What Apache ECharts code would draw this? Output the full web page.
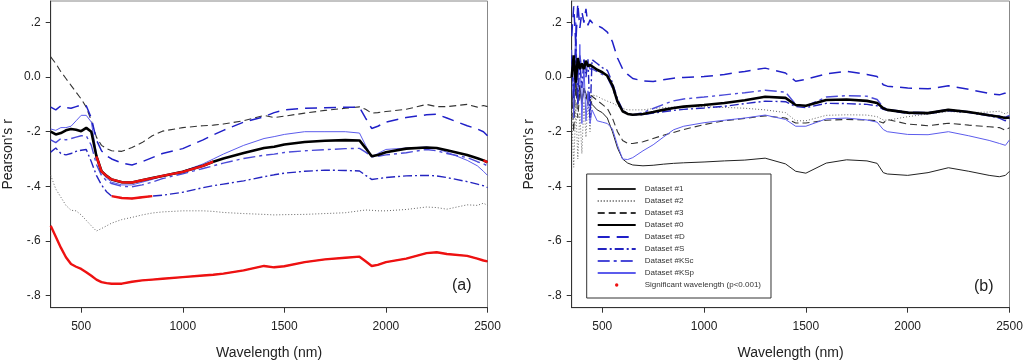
<!DOCTYPE html>
<html><head><meta charset="utf-8">
<script src="https://cdn.jsdelivr.net/npm/echarts@6/dist/echarts.min.js"></script>
<style>html,body{margin:0;padding:0;background:#fff}#c{width:1024px;height:360px}</style>
</head><body><div id="c"></div>
<script>
// ---------- Panel (a) ----------
const wlA = [350,375,400,425,450,475,500,525,550,575,600,625,650,700,750,800,850,900,1000,1100,1150,1200,1300,1400,1450,1500,1600,1700,1800,1870,1900,1930,1960,2000,2100,2200,2250,2300,2400,2450,2480,2500];
const a1  = [-0.545,-0.585,-0.625,-0.66,-0.685,-0.695,-0.703,-0.715,-0.728,-0.742,-0.751,-0.755,-0.757,-0.757,-0.75,-0.745,-0.742,-0.739,-0.733,-0.727,-0.724,-0.72,-0.708,-0.692,-0.697,-0.693,-0.678,-0.668,-0.662,-0.658,-0.675,-0.692,-0.688,-0.678,-0.665,-0.645,-0.642,-0.648,-0.655,-0.665,-0.672,-0.675];
const a2  = [-0.36,-0.41,-0.44,-0.47,-0.488,-0.49,-0.505,-0.525,-0.545,-0.564,-0.555,-0.545,-0.535,-0.522,-0.514,-0.505,-0.498,-0.494,-0.49,-0.49,-0.492,-0.496,-0.5,-0.503,-0.505,-0.504,-0.503,-0.5,-0.497,-0.49,-0.487,-0.488,-0.49,-0.49,-0.485,-0.476,-0.478,-0.484,-0.468,-0.47,-0.462,-0.47];
const a3  = [0.074,0.05,0.02,-0.005,-0.03,-0.055,-0.08,-0.11,-0.16,-0.22,-0.25,-0.262,-0.27,-0.272,-0.258,-0.24,-0.215,-0.198,-0.185,-0.178,-0.176,-0.172,-0.16,-0.14,-0.148,-0.143,-0.132,-0.122,-0.114,-0.109,-0.118,-0.132,-0.13,-0.126,-0.118,-0.1,-0.108,-0.108,-0.1,-0.11,-0.104,-0.108];
const a0  = [-0.2,-0.21,-0.205,-0.195,-0.19,-0.193,-0.198,-0.186,-0.2,-0.29,-0.345,-0.362,-0.375,-0.385,-0.386,-0.378,-0.37,-0.362,-0.347,-0.325,-0.31,-0.298,-0.278,-0.26,-0.255,-0.247,-0.238,-0.233,-0.231,-0.232,-0.26,-0.29,-0.285,-0.275,-0.262,-0.258,-0.26,-0.268,-0.285,-0.297,-0.305,-0.312];
const aD  = [-0.11,-0.12,-0.105,-0.112,-0.114,-0.108,-0.102,-0.105,-0.15,-0.23,-0.27,-0.288,-0.3,-0.315,-0.322,-0.31,-0.295,-0.28,-0.262,-0.23,-0.212,-0.195,-0.165,-0.145,-0.13,-0.12,-0.114,-0.112,-0.11,-0.111,-0.15,-0.188,-0.18,-0.165,-0.148,-0.138,-0.136,-0.15,-0.178,-0.19,-0.2,-0.215];
const aS  = [-0.275,-0.26,-0.28,-0.285,-0.28,-0.272,-0.268,-0.265,-0.31,-0.36,-0.395,-0.42,-0.436,-0.443,-0.445,-0.44,-0.436,-0.433,-0.422,-0.405,-0.398,-0.392,-0.38,-0.365,-0.358,-0.352,-0.345,-0.341,-0.342,-0.344,-0.36,-0.375,-0.372,-0.368,-0.362,-0.36,-0.362,-0.368,-0.383,-0.392,-0.398,-0.405];
const aKSc= [-0.23,-0.24,-0.225,-0.23,-0.225,-0.22,-0.215,-0.215,-0.25,-0.32,-0.36,-0.38,-0.39,-0.4,-0.402,-0.395,-0.385,-0.372,-0.354,-0.335,-0.325,-0.315,-0.298,-0.286,-0.282,-0.276,-0.27,-0.266,-0.262,-0.261,-0.275,-0.292,-0.29,-0.285,-0.277,-0.265,-0.27,-0.28,-0.295,-0.31,-0.318,-0.325];
const aKSp= [-0.19,-0.195,-0.185,-0.185,-0.18,-0.16,-0.14,-0.14,-0.165,-0.28,-0.35,-0.37,-0.385,-0.395,-0.395,-0.385,-0.375,-0.362,-0.345,-0.318,-0.3,-0.282,-0.25,-0.225,-0.218,-0.21,-0.2,-0.2,-0.2,-0.205,-0.25,-0.292,-0.28,-0.265,-0.26,-0.256,-0.262,-0.275,-0.305,-0.325,-0.345,-0.36];
// significant wavelength ranges (nm) in panel (a)
const sigA1 = [[350,2500]];
const sigA0 = [[575,1150],[2480,2500]];
const sigAS = [[650,850]];

// ---------- Panel (b) ----------
const wlB = [350,360,370,380,390,400,410,420,430,440,450,475,500,525,550,575,600,625,650,700,750,800,850,900,1000,1100,1200,1300,1400,1450,1500,1600,1700,1800,1850,1880,1900,2000,2100,2200,2300,2400,2450,2480,2500];
const b1  = [-0.05,-0.12,-0.01,-0.1,-0.03,-0.1,-0.04,-0.06,-0.1,-0.08,-0.1,-0.12,-0.13,-0.15,-0.2,-0.26,-0.3,-0.315,-0.322,-0.325,-0.323,-0.319,-0.316,-0.314,-0.311,-0.307,-0.304,-0.297,-0.318,-0.345,-0.352,-0.315,-0.303,-0.307,-0.316,-0.35,-0.355,-0.36,-0.35,-0.332,-0.345,-0.36,-0.365,-0.36,-0.345];
const b2  = [-0.12,-0.33,-0.1,-0.3,-0.13,-0.28,-0.09,-0.22,-0.08,-0.2,-0.065,-0.07,-0.08,-0.088,-0.095,-0.105,-0.115,-0.12,-0.12,-0.12,-0.115,-0.112,-0.11,-0.108,-0.108,-0.111,-0.114,-0.12,-0.13,-0.16,-0.16,-0.14,-0.138,-0.139,-0.145,-0.157,-0.158,-0.145,-0.135,-0.126,-0.13,-0.128,-0.125,-0.135,-0.126];
const b3  = [-0.05,-0.2,-0.02,-0.15,-0.05,-0.09,-0.04,-0.08,-0.06,-0.065,-0.07,-0.085,-0.1,-0.115,-0.15,-0.2,-0.232,-0.243,-0.243,-0.237,-0.225,-0.213,-0.203,-0.192,-0.174,-0.16,-0.151,-0.142,-0.15,-0.168,-0.168,-0.158,-0.155,-0.157,-0.16,-0.168,-0.155,-0.172,-0.178,-0.169,-0.176,-0.182,-0.185,-0.195,-0.185];
const b0  = [0.0,0.08,-0.02,0.07,0.03,0.05,0.03,0.06,0.04,0.045,0.04,0.027,0.018,0.005,-0.03,-0.09,-0.125,-0.135,-0.138,-0.135,-0.128,-0.12,-0.113,-0.108,-0.102,-0.095,-0.085,-0.072,-0.076,-0.102,-0.105,-0.084,-0.082,-0.087,-0.095,-0.114,-0.12,-0.13,-0.132,-0.12,-0.128,-0.14,-0.145,-0.15,-0.148];
const bD  = [0.15,0.26,0.12,0.27,0.18,0.24,0.2,0.25,0.19,0.21,0.2,0.19,0.18,0.165,0.13,0.07,0.03,0.01,-0.005,-0.014,-0.016,-0.01,-0.004,-0.001,0.002,0.01,0.021,0.033,0.015,-0.015,-0.008,0.012,0.021,0.01,0.002,-0.028,-0.033,-0.04,-0.043,-0.032,-0.045,-0.06,-0.065,-0.058,-0.048];
const bS  = [0.08,-0.08,0.14,-0.1,0.06,-0.04,0.07,0.0,0.065,-0.15,0.064,0.05,0.035,0.025,-0.02,-0.08,-0.12,-0.135,-0.138,-0.138,-0.132,-0.127,-0.122,-0.118,-0.113,-0.107,-0.097,-0.088,-0.09,-0.108,-0.112,-0.096,-0.097,-0.1,-0.105,-0.118,-0.122,-0.133,-0.134,-0.123,-0.13,-0.142,-0.15,-0.16,-0.15];
const bKSc= [0.05,-0.05,0.1,0.0,0.08,0.03,0.06,0.02,0.05,0.03,0.03,0.02,0.01,0.0,-0.04,-0.09,-0.125,-0.135,-0.138,-0.13,-0.115,-0.1,-0.087,-0.08,-0.073,-0.065,-0.057,-0.048,-0.055,-0.1,-0.106,-0.073,-0.068,-0.07,-0.082,-0.11,-0.118,-0.128,-0.13,-0.118,-0.127,-0.138,-0.142,-0.147,-0.14];
const bKSp= [0.1,-0.15,0.2,-0.1,0.12,-0.17,0.05,-0.16,-0.05,-0.17,-0.12,-0.16,-0.165,-0.17,-0.19,-0.25,-0.3,-0.302,-0.295,-0.27,-0.248,-0.22,-0.193,-0.18,-0.167,-0.158,-0.15,-0.139,-0.155,-0.18,-0.18,-0.153,-0.15,-0.157,-0.165,-0.192,-0.2,-0.21,-0.211,-0.2,-0.215,-0.232,-0.243,-0.25,-0.23];

const xTicks = [500,1000,1500,2000,2500];
const yTicks = [-0.8,-0.6,-0.4,-0.2,0,0.2];
const names = ['Dataset #1','Dataset #2','Dataset #3','Dataset #0','Dataset #D','Dataset #S','Dataset #KSc','Dataset #KSp'];
const SIG = 'Significant wavelength (p<0.001)';

const styles = {
  'Dataset #1':  {color:'#222', width:1, type:'solid'},
  'Dataset #2':  {color:'#666', width:1, type:[1,2]},
  'Dataset #3':  {color:'#333', width:1.1, type:[7,4]},
  'Dataset #0':  {color:'#000', width:2.6, type:'solid'},
  'Dataset #D':  {color:'#2020c8', width:1.5, type:[12,7]},
  'Dataset #S':  {color:'#2424c0', width:1.4, type:[9,3,2,3]},
  'Dataset #KSc':{color:'#4a4ad8', width:1.4, type:[12,4,3,4]},
  'Dataset #KSp':{color:'#5c5cec', width:1, type:'solid'}
};

function pairs(wl, v){ return wl.map((w,i)=>[w, v[i]]); }
function sigPairs(wl, v, ranges){
  return wl.map((w,i)=> ranges.some(r=> w>=r[0] && w<=r[1]) ? [w, v[i]] : [w, null]);
}
function lineSeries(name, wl, v, idx){
  const s = styles[name];
  return {name, type:'line', xAxisIndex:idx, yAxisIndex:idx, data:pairs(wl,v), showSymbol:false, symbol:'none',
    lineStyle:{color:s.color, width:s.width, type:s.type}, itemStyle:{color:s.color}, z:2};
}
function sigSeries(wl, v, ranges, idx){
  return {name:SIG, type:'line', xAxisIndex:idx, yAxisIndex:idx, data:sigPairs(wl,v,ranges), connectNulls:false,
    showSymbol:false, symbol:'none', lineStyle:{color:'#ee1111', width:2.4}, itemStyle:{color:'#ee1111'}, z:5};
}
const aVals = {'Dataset #1':a1,'Dataset #2':a2,'Dataset #3':a3,'Dataset #0':a0,'Dataset #D':aD,'Dataset #S':aS,'Dataset #KSc':aKSc,'Dataset #KSp':aKSp};
const bVals = {'Dataset #1':b1,'Dataset #2':b2,'Dataset #3':b3,'Dataset #0':b0,'Dataset #D':bD,'Dataset #S':bS,'Dataset #KSc':bKSc,'Dataset #KSp':bKSp};
const drawOrder = ['Dataset #2','Dataset #1','Dataset #3','Dataset #KSp','Dataset #KSc','Dataset #S','Dataset #D','Dataset #0'];

const series = [];
drawOrder.forEach(n=>series.push(lineSeries(n, wlA, aVals[n], 0)));
series.push(sigSeries(wlA, a1, sigA1, 0));
series.push(sigSeries(wlA, a0, sigA0, 0));
series.push(sigSeries(wlA, aS, sigAS, 0));
drawOrder.forEach(n=>series.push(lineSeries(n, wlB, bVals[n], 1)));

function yFmt(v){ if (Math.abs(v)<1e-9) return '0.0'; return (v<0?'-':'') + Math.abs(v).toFixed(1).replace(/^0/,''); }
const font = 'Liberation Sans, Arial, sans-serif';
function xAxis(idx){
  return {type:'value', gridIndex:idx, min:350, max:2500,
    axisLine:{show:true, onZero:false, lineStyle:{color:'#333', width:1}},
    axisTick:{show:true, length:5, inside:false, customValues:xTicks, lineStyle:{color:'#333'}},
    axisLabel:{customValues:xTicks, formatter:v=>String(Math.round(v)), fontSize:12, color:'#222', margin:13, fontFamily:font},
    splitLine:{show:false},
    name:'Wavelength (nm)', nameLocation:'middle', nameGap:38,
    nameTextStyle:{fontSize:14, color:'#222', fontFamily:font}};
}
function yAxis(idx){
  return {type:'value', gridIndex:idx, min:-0.845, max:0.279,
    axisLine:{show:true, onZero:false, lineStyle:{color:'#333', width:1}},
    axisTick:{show:true, length:5, inside:false, customValues:yTicks, lineStyle:{color:'#333'}},
    axisLabel:{customValues:yTicks, formatter:yFmt, fontSize:12, color:'#222', margin:10, fontFamily:font},
    splitLine:{show:false},
    name:"Pearson's r", nameLocation:'middle', nameGap:36,
    nameTextStyle:{fontSize:14, color:'#222', fontFamily:font}};
}
const dotIcon = 'image://data:image/svg+xml;utf8,' + encodeURIComponent('<svg xmlns="http://www.w3.org/2000/svg" width="38" height="8"><circle cx="19" cy="4" r="1.7" fill="#ee1111"/></svg>');

const option = {
  animation:false,
  backgroundColor:'#fff',
  grid:[
    {left:50.7, right:1024-487.5, top:1, bottom:360-307.7, show:true, borderColor:'#888', borderWidth:1, containLabel:false, outerBoundsMode:'none'},
    {left:571.7, right:1024-1009.5, top:1, bottom:360-307.7, show:true, borderColor:'#888', borderWidth:1, containLabel:false, outerBoundsMode:'none'}
  ],
  xAxis:[xAxis(0), xAxis(1)],
  yAxis:[yAxis(0), yAxis(1)],
  legend:{
    orient:'vertical', left:586.7, top:174, itemWidth:38, itemHeight:8, itemGap:4,
    padding:[11,10,9,10], borderColor:'#333', borderWidth:1, backgroundColor:'#fff', borderRadius:0,
    selectedMode:false,
    itemStyle:{opacity:0},
    textStyle:{fontSize:8, color:'#333', fontFamily:font, padding:[0,0,0,4]},
    data: names.map(n=>({name:n})).concat([{name:SIG, icon:dotIcon, itemStyle:{opacity:1}}])
  },
  graphic:[
    {type:'text', left:452, top:278, style:{text:'(a)', fontSize:16, fill:'#222', fontFamily:font}},
    {type:'text', left:974, top:279, style:{text:'(b)', fontSize:16, fill:'#222', fontFamily:font}}
  ],
  series
};
const chart = echarts.init(document.getElementById('c'), null, {renderer:'canvas'});
chart.setOption(option);
</script></body></html>
